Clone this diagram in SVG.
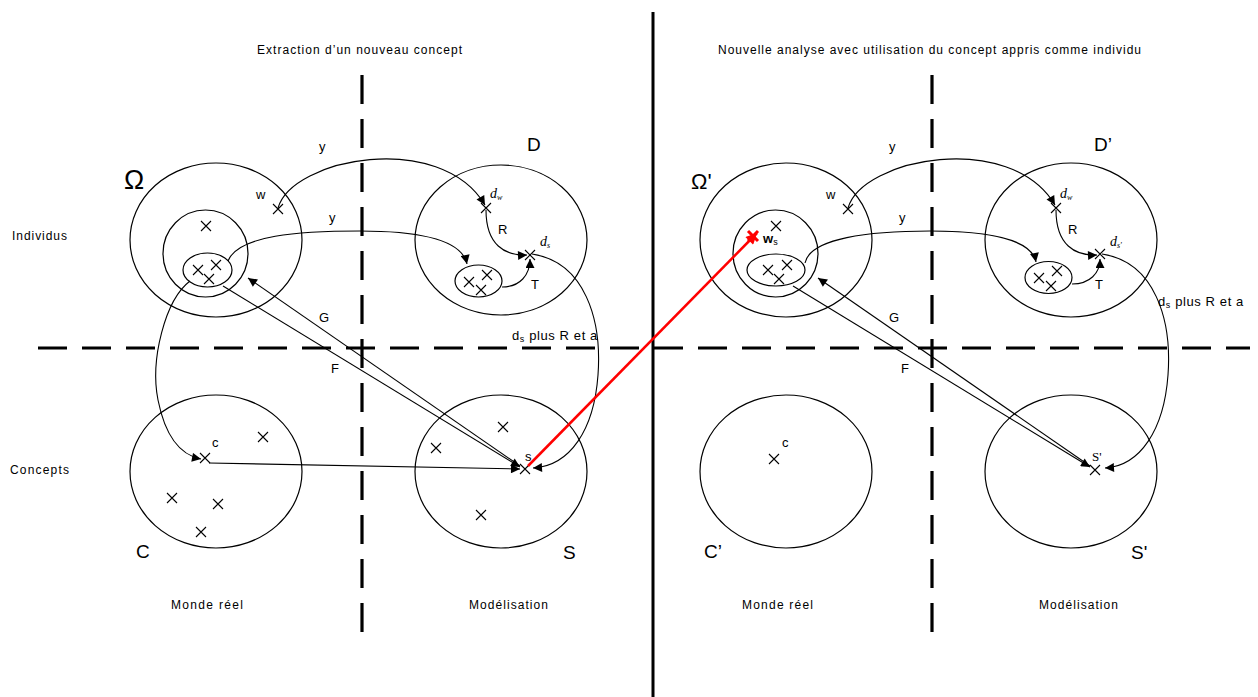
<svg xmlns="http://www.w3.org/2000/svg" xmlns:xlink="http://www.w3.org/1999/xlink" width="1258" height="697" viewBox="0 0 1258 697">
<style>
.e{fill:none;stroke:#000;stroke-width:1.2}
.x{fill:none;stroke:#000;stroke-width:1.1}
.c{fill:none;stroke:#000;stroke-width:1.1}
.d{fill:none;stroke:#000;stroke-width:3.2;stroke-dasharray:29 15}
.t{font-family:"Liberation Sans",Arial,sans-serif;font-size:12px;fill:#000}
.l{font-family:"Liberation Sans",Arial,sans-serif;font-size:13px;fill:#000}
.b{font-family:"Liberation Sans",Arial,sans-serif;font-size:19px;fill:#000}
.i{font-family:"Liberation Serif","Times New Roman",serif;font-style:italic;font-size:14px;fill:#000}
</style>
<defs>
<path id="cr" d="M-5,-5L5,5M-5,5L5,-5"/>
<marker id="a" viewBox="0 0 10 10" refX="10" refY="5" markerWidth="12" markerHeight="9" markerUnits="userSpaceOnUse" orient="auto"><path d="M0,0L10,5L0,10z" fill="#000"/></marker>
<marker id="ar" viewBox="0 0 10 10" refX="10" refY="5" markerWidth="14" markerHeight="11" markerUnits="userSpaceOnUse" orient="auto"><path d="M0,0L10,5L0,10z" fill="#f00"/></marker>
</defs>
<rect width="1258" height="697" fill="#fff"/>
<g id="axes">
<path class="d" d="M38,348H1250"/>
<path class="d" d="M362,75V637"/>
<path class="d" d="M932,75V637"/>
<path d="M653,12V697" stroke="#000" stroke-width="3" fill="none"/>
</g>
<g id="labels">
<text class="t" x="257" y="54" textLength="205" lengthAdjust="spacing">Extraction d’un nouveau concept</text>
<text class="t" x="718" y="54" textLength="423" lengthAdjust="spacing">Nouvelle analyse avec utilisation du concept appris comme individu</text>
<text class="t" x="12" y="240" textLength="55" lengthAdjust="spacing">Individus</text>
<text class="t" x="10" y="474" textLength="59" lengthAdjust="spacing">Concepts</text>
<text class="t" x="171" y="609" textLength="72" lengthAdjust="spacing">Monde réel</text>
<text class="t" x="469" y="609" textLength="79" lengthAdjust="spacing">Modélisation</text>
<text class="t" x="742" y="609" textLength="71" lengthAdjust="spacing">Monde réel</text>
<text class="t" x="1039" y="609" textLength="79" lengthAdjust="spacing">Modélisation</text>
</g>
<g id="Omega">
<ellipse class="e" cx="216" cy="240" rx="86" ry="77"/>
<ellipse class="e" cx="205.5" cy="253.5" rx="42.5" ry="43.5"/>
<ellipse class="e" cx="207.5" cy="270" rx="24.5" ry="17"/>
<use href="#cr" class="x" x="206" y="226"/>
<use href="#cr" class="x" x="198" y="270"/>
<use href="#cr" class="x" x="216" y="265"/>
<use href="#cr" class="x" x="209" y="279"/>
<use href="#cr" class="x" x="278" y="209"/>
<text class="l" x="256" y="199">w</text>
<text x="124" y="189" font-family="Liberation Sans,Arial,sans-serif" font-size="27">Ω</text>
</g>
<g id="D">
<ellipse class="e" cx="501" cy="240" rx="86" ry="75"/>
<ellipse class="e" cx="478.5" cy="281" rx="23.5" ry="16"/>
<use href="#cr" class="x" x="469" y="282"/>
<use href="#cr" class="x" x="487" y="275"/>
<use href="#cr" class="x" x="481" y="290"/>
<use href="#cr" class="x" x="486" y="208"/>
<use href="#cr" class="x" x="530" y="255"/>
<text class="i" x="490" y="198">d<tspan font-size="8" dy="2">w</tspan></text>
<text class="i" x="540" y="246">d<tspan font-size="8" dy="2">s</tspan></text>
<text class="b" x="527" y="151">D</text>
</g>
<g id="C">
<ellipse class="e" cx="216" cy="471.5" rx="86" ry="76.5"/>
<use href="#cr" class="x" x="205" y="458"/>
<use href="#cr" class="x" x="263" y="437"/>
<use href="#cr" class="x" x="172" y="498"/>
<use href="#cr" class="x" x="218" y="504"/>
<use href="#cr" class="x" x="201" y="532"/>
<text class="l" x="212" y="447">c</text>
<text class="b" x="136" y="558">C</text>
</g>
<g id="S">
<ellipse class="e" cx="501" cy="471.5" rx="86" ry="76.5"/>
<use href="#cr" class="x" x="525" y="469"/>
<use href="#cr" class="x" x="503" y="427"/>
<use href="#cr" class="x" x="436" y="448"/>
<use href="#cr" class="x" x="481" y="515"/>
<text class="l" x="525" y="461">s</text>
<text class="b" x="563" y="559">S</text>
</g>
<g id="OmegaP">
<ellipse class="e" cx="786" cy="240" rx="86" ry="77"/>
<ellipse class="e" cx="775.5" cy="253.5" rx="42.5" ry="43.5"/>
<ellipse class="e" cx="776" cy="270" rx="29" ry="16"/>
<use href="#cr" class="x" x="776" y="226"/>
<use href="#cr" class="x" x="768" y="270"/>
<use href="#cr" class="x" x="787" y="265"/>
<use href="#cr" class="x" x="779" y="279"/>
<use href="#cr" class="x" x="848" y="209"/>
<use href="#cr" x="753" y="236" fill="none" stroke="#f00" stroke-width="3"/>
<text class="l" x="826" y="199">w</text>
<text x="763" y="243" font-family="Liberation Sans,Arial,sans-serif" font-size="13" font-weight="bold">w<tspan font-size="9" font-weight="normal" dy="2">s</tspan></text>
<text x="691" y="189" font-family="Liberation Sans,Arial,sans-serif" font-size="22">Ω'</text>
</g>
<g id="DP">
<ellipse class="e" cx="1071" cy="240" rx="86" ry="77"/>
<ellipse class="e" cx="1048.5" cy="277.5" rx="23.5" ry="16"/>
<use href="#cr" class="x" x="1039" y="278"/>
<use href="#cr" class="x" x="1057" y="271"/>
<use href="#cr" class="x" x="1051" y="286"/>
<use href="#cr" class="x" x="1056" y="208"/>
<use href="#cr" class="x" x="1100" y="254"/>
<text class="i" x="1060" y="198">d<tspan font-size="8" dy="2">w</tspan></text>
<text class="i" x="1110" y="246">d<tspan font-size="8" dy="2">s'</tspan></text>
<text class="b" x="1094" y="151">D’</text>
</g>
<g id="CP">
<ellipse class="e" cx="786" cy="471.5" rx="86" ry="76.5"/>
<use href="#cr" class="x" x="774" y="459"/>
<text class="l" x="782" y="447">c</text>
<text class="b" x="704" y="558">C’</text>
</g>
<g id="SP">
<ellipse class="e" cx="1071" cy="471.5" rx="86" ry="76.5"/>
<use href="#cr" class="x" x="1095" y="470"/>
<text x="1092" y="461" font-family="Liberation Serif,serif" font-size="13">S'</text>
<text class="b" x="1131" y="559">S'</text>
</g>
<g id="connectors">
<path class="c" d="M278,208C292,158 440,130 485,205" marker-end="url(#a)"/>
<path class="c" d="M228,261C238,235 300,231 360,231C420,231 462,240 467,264" marker-end="url(#a)"/>
<path class="c" d="M190,281C165,300 150,360 158,400C165,435 180,455 201,459" marker-end="url(#a)"/>
<path class="c" d="M209,463L520,469" marker-end="url(#a)"/>
<path class="c" d="M520,466L248,278" marker-end="url(#a)"/>
<path class="c" d="M223,286L520,467" marker-end="url(#a)"/>
<path class="c" d="M532,254C585,262 602,320 598,375C594,430 570,466 533,468" marker-end="url(#a)"/>
<path class="c" d="M486,210C486,245 505,256 527,255" marker-end="url(#a)"/>
<path class="c" d="M502,287C520,287 530,275 530,259" marker-end="url(#a)"/>
<path d="M528,466L757,233" fill="none" stroke="#f00" stroke-width="2.5" marker-end="url(#ar)"/>
<path class="c" d="M848,208C862,158 1010,130 1055,205" marker-end="url(#a)"/>
<path class="c" d="M805,263C810,238 870,231 930,231C990,231 1032,240 1036,262" marker-end="url(#a)"/>
<path class="c" d="M1090,466L818,278" marker-end="url(#a)"/>
<path class="c" d="M793,286L1090,467" marker-end="url(#a)"/>
<path class="c" d="M1102,254C1155,262 1172,320 1168,375C1164,430 1140,466 1105,468" marker-end="url(#a)"/>
<path class="c" d="M1056,210C1056,245 1075,256 1097,255" marker-end="url(#a)"/>
<path class="c" d="M1072,284C1090,284 1100,273 1100,259" marker-end="url(#a)"/>
<text class="l" x="319" y="151">y</text>
<text class="l" x="329" y="222">y</text>
<text class="l" x="319" y="322">G</text>
<text class="l" x="331" y="373">F</text>
<text class="l" x="498" y="234">R</text>
<text class="l" x="531" y="289">T</text>
<text class="l" x="512" y="340" letter-spacing="0.6">d<tspan font-size="9" dy="2">s</tspan><tspan dy="-2"> plus R  et a</tspan></text>
<text class="l" x="889" y="151">y</text>
<text class="l" x="899" y="222">y</text>
<text class="l" x="889" y="322">G</text>
<text class="l" x="901" y="373">F</text>
<text class="l" x="1068" y="234">R</text>
<text class="l" x="1095" y="289">T</text>
<text class="l" x="1158" y="306" letter-spacing="0.6">d<tspan font-size="9" dy="2">s</tspan><tspan dy="-2"> plus R  et a</tspan></text>
</g>
</svg>
